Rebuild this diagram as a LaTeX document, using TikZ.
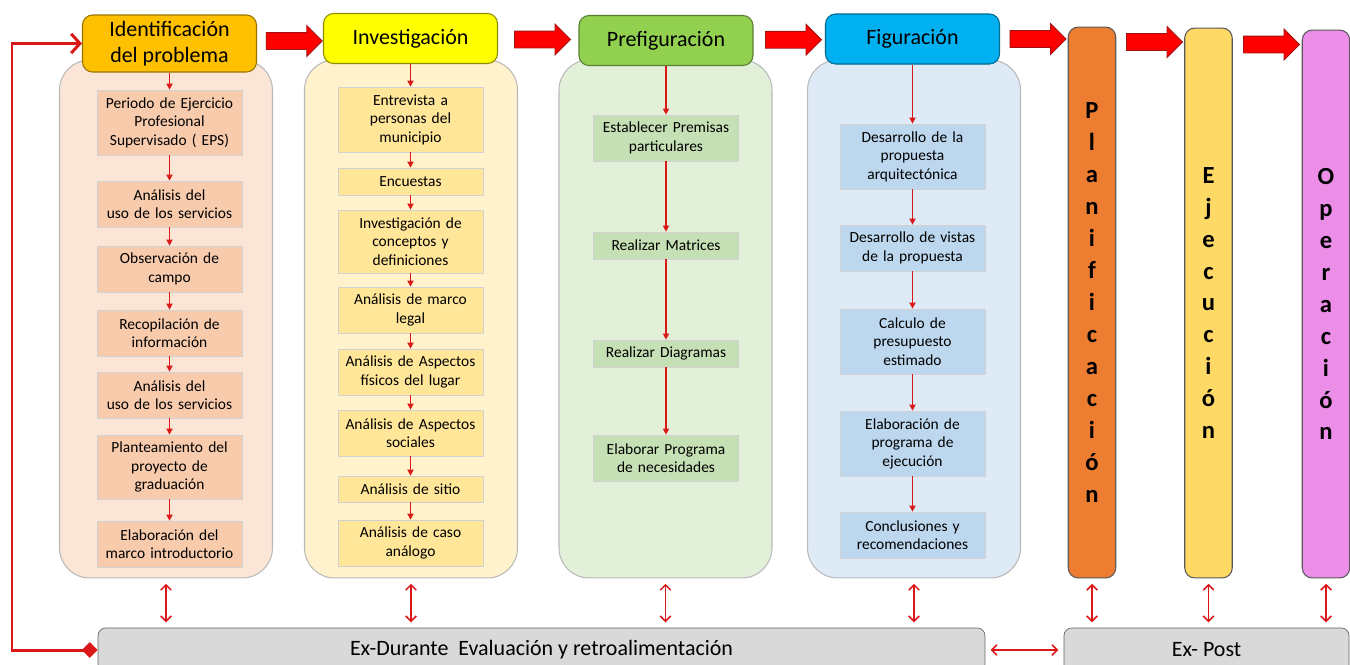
\documentclass[tikz,border=0pt]{standalone}
\usepackage{fontspec}
\setmainfont{Carlito}
\usepackage{tikz}
\usetikzlibrary{arrows.meta,positioning,calc,shapes.arrows}
\definecolor{rojo}{RGB}{218,24,24}
\definecolor{fondoA}{RGB}{251,229,214}
\definecolor{fondoB}{RGB}{255,242,204}
\definecolor{fondoC}{RGB}{226,240,217}
\definecolor{fondoD}{RGB}{222,235,247}
\definecolor{subA}{RGB}{248,203,173}
\definecolor{subB}{RGB}{255,230,153}
\definecolor{subC}{RGB}{197,224,180}
\definecolor{subD}{RGB}{189,215,238}
\definecolor{headA}{RGB}{255,192,0}
\definecolor{headB}{RGB}{255,255,0}
\definecolor{headC}{RGB}{146,208,80}
\definecolor{headD}{RGB}{0,176,240}
\definecolor{planif}{RGB}{237,125,49}
\definecolor{ejec}{RGB}{255,217,102}
\definecolor{oper}{RGB}{236,141,232}
\definecolor{evalgris}{RGB}{217,217,217}

\begin{document}
\begin{tikzpicture}[x=0.02cm, y=-0.02cm,
  box/.style={draw=gray!55, line width=0.6pt, rounded corners=0.6cm, minimum width=4.26cm, minimum height=10.36cm},
  head/.style={draw, line width=0.6pt, rounded corners=0.2cm, minimum width=3.48cm, minimum height=1.0cm, align=center, font=\fontsize{12.5}{15}\selectfont},
  sub/.style={draw=black!18, minimum width=2.9cm, text width=2.8cm, align=center, inner sep=1pt, font=\fontsize{8.8}{10.5}\selectfont},
  flow/.style={rojo, line width=0.9pt, -{Triangle[length=3.5pt,width=3.5pt]}},
  bigarrow/.style={single arrow, draw=rojo!75!black, fill=red, line width=0.5pt, inner xsep=0pt, inner ysep=0.16cm, text height=0pt, text depth=0pt, single arrow head extend=0.14cm, single arrow head indent=0pt, minimum height=1.12cm},
  bar/.style={draw=black!65, line width=0.6pt, rounded corners=0.2cm, minimum width=0.95cm, align=center, font=\bfseries\fontsize{14}{18.2}\selectfont},
  evalbox/.style={draw=black!60, fill=evalgris, rounded corners=0.15cm, minimum height=0.88cm, font=\fontsize{12.5}{15}\selectfont},
  dbl/.style={rojo, line width=0.9pt, shorten <=3pt, shorten >=3pt, {Straight Barb[length=3pt,width=6pt]}-{Straight Barb[length=3pt,width=6pt]}},
  feedback/.style={rojo, line width=1.7pt, {Diamond[length=9pt,width=9pt]}-{Straight Barb[length=5pt,width=11pt]}}]
 \useasboundingbox (0,0) rectangle (1350,664);
 \clip (0,0) rectangle (1350,664);

 % containers
 \node[box, fill=fondoA] (boxA) at (166,319) {};
 \node[box, fill=fondoB] (boxB) at (411,319) {};
 \node[box, fill=fondoC] (boxC) at (665.5,319) {};
 \node[box, fill=fondoD] (boxD) at (914,319) {};

 % headers
 \node[head, fill=headA, draw=headA!60!black, minimum height=1.14cm] (ident) at (169.5,43.5) {Identificación\\del problema};
 \node[head, fill=headB, draw=headB!55!black] (invest) at (410.5,38.5) {Investigación};
 \node[head, fill=headC, draw=headC!60!black] (prefig) at (666,40.5) {Prefiguración};
 \node[head, fill=headD, draw=headD!60!black] (fig) at (912.5,39) {Figuración};

 % Identificacion
 \node[sub, fill=subA, minimum height=1.3cm] (a1) at (169.5,122.5) {Periodo de Ejercicio\\Profesional\\Supervisado ( EPS)};
 \node[sub, fill=subA, minimum height=0.92cm] (a2) at (169.5,204) {Análisis del\\uso de los servicios};
 \node[sub, fill=subA, minimum height=0.92cm] (a3) at (169.5,269) {Observación de\\campo};
 \node[sub, fill=subA, minimum height=0.92cm] (a4) at (169.5,333) {Recopilación de\\información};
 \node[sub, fill=subA, minimum height=0.92cm] (a5) at (169.5,395) {Análisis del\\uso de los servicios};
 \node[sub, fill=subA, minimum height=1.28cm] (a6) at (169.5,467) {Planteamiento del\\proyecto de\\graduación};
 \node[sub, fill=subA, minimum height=0.92cm] (a7) at (169.5,544) {Elaboración del\\marco introductorio};

 % Investigacion
 \node[sub, fill=subB, minimum height=1.3cm] (b1) at (410.5,119.5) {Entrevista a\\personas del\\municipio};
 \node[sub, fill=subB, minimum height=0.54cm] (b2) at (410.5,181.5) {Encuestas};
 \node[sub, fill=subB, minimum height=1.26cm] (b3) at (410.5,241.5) {Investigación de\\conceptos y\\definiciones};
 \node[sub, fill=subB, minimum height=0.92cm] (b4) at (410.5,310) {Análisis de marco\\legal};
 \node[sub, fill=subB, minimum height=0.92cm] (b5) at (410.5,372) {Análisis de Aspectos\\físicos del lugar};
 \node[sub, fill=subB, minimum height=0.92cm] (b6) at (410.5,433) {Análisis de Aspectos\\sociales};
 \node[sub, fill=subB, minimum height=0.52cm] (b7) at (410.5,489) {Análisis de sitio};
 \node[sub, fill=subB, minimum height=0.92cm] (b8) at (410.5,543) {Análisis de caso\\análogo};

 % Prefiguracion
 \node[sub, fill=subC, minimum height=0.92cm] (c1) at (666,138) {Establecer Premisas\\particulares};
 \node[sub, fill=subC, minimum height=0.54cm] (c2) at (666,245.5) {Realizar Matrices};
 \node[sub, fill=subC, minimum height=0.54cm] (c3) at (666,353.5) {Realizar Diagramas};
 \node[sub, fill=subC, minimum height=0.92cm] (c4) at (666,458) {Elaborar Programa\\de necesidades};

 % Figuracion
 \node[sub, fill=subD, minimum height=1.3cm] (d1) at (912.5,156.5) {Desarrollo de la\\propuesta\\arquitectónica};
 \node[sub, fill=subD, minimum height=0.92cm] (d2) at (912.5,248) {Desarrollo de vistas\\de la propuesta};
 \node[sub, fill=subD, minimum height=1.3cm] (d3) at (912.5,341.5) {Calculo de\\presupuesto\\estimado};
 \node[sub, fill=subD, minimum height=1.3cm] (d4) at (912.5,443.5) {Elaboración de\\programa de\\ejecución};
 \node[sub, fill=subD, minimum height=0.92cm] (d5) at (912.5,535) {Conclusiones y\\recomendaciones};

 \foreach \a/\b in {ident/a1,a1/a2,a2/a3,a3/a4,a4/a5,a5/a6,a6/a7,
                    invest/b1,b1/b2,b2/b3,b3/b4,b4/b5,b5/b6,b6/b7,b7/b8,
                    prefig/c1,c1/c2,c2/c3,c3/c4,
                    fig/d1,d1/d2,d2/d3,d3/d4,d4/d5}
   \draw[flow] (\a) -- (\b);

 % vertical bars
 \node[bar, fill=planif, minimum height=11.02cm] (plan) at (1092,302.5) {P\\l\\a\\n\\i\\f\\i\\c\\a\\c\\i\\ó\\n};
 \node[bar, fill=ejec, minimum height=11.0cm] (ejecu) at (1208.5,303) {E\\j\\e\\c\\u\\c\\i\\ó\\n};
 \node[bar, fill=oper, minimum height=10.96cm] (opera) at (1326,304) {O\\p\\e\\r\\a\\c\\i\\ó\\n};

 % big arrows
 \node[bigarrow] (ar1) at ($(ident.east)!0.5!(invest.west)$) {};
 \node[bigarrow] (ar2) at ($(invest.east)!0.5!(prefig.west)$) {};
 \node[bigarrow] (ar3) at ($(prefig.east)!0.5!(fig.west)$) {};
 \node[bigarrow] (ar4) at ($(fig.east)!0.5!(fig.east -| plan.west)$) {};
 \node[bigarrow] (ar5) at ($(plan.north east)!0.5!(ejecu.north west)+(0,15)$) {};
 \node[bigarrow] (ar6) at ($(ejecu.north east)!0.5!(opera.north west)+(0,16)$) {};

 % evaluation
 \node[evalbox, minimum width=17.74cm] (exd) at (541.5,650) {Ex-Durante\ \ Evaluación y retroalimentación};
 \node[evalbox, minimum width=5.7cm] (exp) at (1206.5,650) {Ex- Post};

 \foreach \n in {boxA,boxB,boxC,boxD}
   \draw[dbl] (\n.south) -- (\n.south |- exd.north);
 \foreach \n in {plan,ejecu,opera}
   \draw[dbl] (\n.south) -- (\n.south |- exp.north);
 \draw[dbl] (exd.east) -- (exp.west);

 % feedback
 \coordinate (fb) at (12,650);
 \draw[feedback] (exd.west) -- (fb) |- (ident.west);
\end{tikzpicture}
\end{document}
